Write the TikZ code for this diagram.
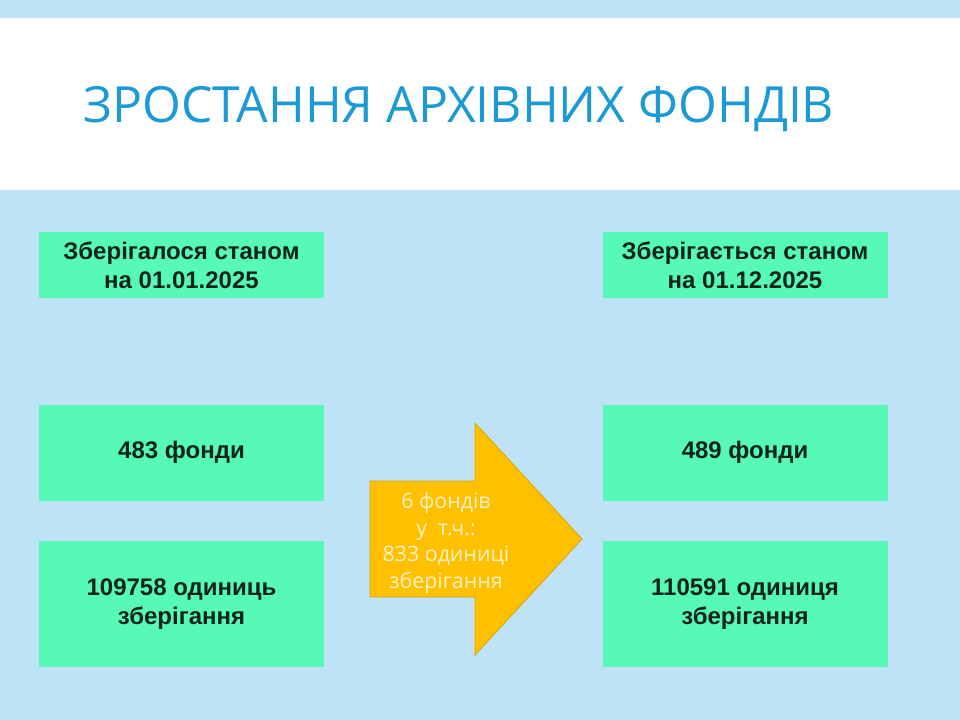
\documentclass[tikz,border=0pt]{standalone}
\usepackage{fontspec}
\setmainfont{Liberation Sans}
\newfontfamily\titlefont{Open Sans}
\usetikzlibrary{positioning}
\definecolor{slidebg}{HTML}{BEE3F6}
\definecolor{titleblue}{HTML}{1B9AD6}
\definecolor{boxgreen}{HTML}{57F9B7}
\definecolor{boxtext}{HTML}{0F241A}
\definecolor{arrowfill}{HTML}{FFC000}
\definecolor{arrowline}{HTML}{D9A400}
\definecolor{arrowtext}{HTML}{FFF2C8}

\begin{document}
\begin{tikzpicture}[x=0.75pt,y=-0.75pt,node distance=30pt,
  data box/.style={fill=boxgreen,minimum width=213.75pt,inner sep=0pt,align=center,
    text=boxtext,font=\fontsize{18}{21.6}\selectfont\bfseries},
  date box/.style={data box,minimum height=49.5pt},
  fonds box/.style={data box,minimum height=72pt},
  units box/.style={data box,minimum height=94.5pt}]
  % slide background
  \fill[slidebg] (0,0) rectangle (960,720);
  \fill[white] (0,18) rectangle (960,190);
  \node[anchor=base west,inner sep=0pt,text=titleblue,
    font=\titlefont\fontsize{37.4}{45}\selectfont] (title) at (83,123)
    {ЗРОСТАННЯ АРХІВНИХ ФОНДІВ};
  % left column
  \node[date box] (oldDate) at (181.5,265) {Зберігалося станом\\на 01.01.2025};
  \node[fonds box] (oldFonds) [below=79.5pt of oldDate] {483 фонди};
  \node[units box] (oldUnits) [below=of oldFonds] {109758 одиниць\\зберігання};
  % right column
  \node[date box] (newDate) [right=208.5pt of oldDate] {Зберігається станом\\на 01.12.2025};
  \node[fonds box] (newFonds) [right=208.5pt of oldFonds] {489 фонди};
  \node[units box] (newUnits) [right=208.5pt of oldUnits] {110591 одиниця\\зберігання};
  % growth arrow
  \draw[fill=arrowfill,draw=arrowline,line width=0.6pt]
    (370,481) -- (475,481) -- (475,423) -- (582,539) -- (475,655)
    -- (475,597) -- (370,597) -- cycle;
  \node[align=center,text=arrowtext,inner sep=0pt,
    font=\titlefont\fontsize{16}{20}\selectfont] (growth) at (446,543)
    {6 фондів\\у\ \ т.ч.:\\833 одиниці\\зберігання};
\end{tikzpicture}
\end{document}
